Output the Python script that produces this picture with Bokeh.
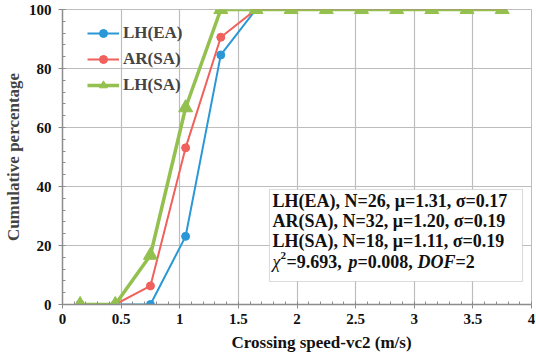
from bokeh.plotting import figure
from bokeh.models import (Range1d, Legend, LegendItem, Label, BoxAnnotation,
                          FixedTicker, Title)
from bokeh.embed import file_html
from bokeh.resources import INLINE

speed = [0.15, 0.45, 0.75, 1.05, 1.35, 1.65, 1.95, 2.25, 2.55, 2.85, 3.15, 3.45, 3.75]
lh_ea = [0, 0, 0, 23.1, 84.6, 100, 100, 100, 100, 100, 100, 100, 100]
ar_sa = [0, 0, 6.3, 53.1, 90.6, 100, 100, 100, 100, 100, 100, 100, 100]
lh_sa = [0, 0, 16.7, 66.7, 100, 100, 100, 100, 100, 100, 100, 100, 100]
x_ticks = [0, 0.5, 1, 1.5, 2, 2.5, 3, 3.5, 4]
y_ticks = [0, 20, 40, 60, 80, 100]
stats_lines = ["LH(EA), N=26, \u03bc=1.31, \u03c3=0.17",
               "AR(SA), N=32, \u03bc=1.20, \u03c3=0.19",
               "LH(SA), N=18, \u03bc=1.11, \u03c3=0.19"]

SERIF = "Liberation Serif"
BLUE = "#2a98d6"
RED = "#f0605c"
GREEN = "#93c04e"
AXIS = "#8c8c8c"
GRID = "#bdbdbd"

p = figure(frame_width=469, frame_height=295, output_backend="svg", toolbar_location=None,
           x_range=Range1d(0, 4), y_range=Range1d(0, 100),
           min_border_left=55, min_border_right=4, min_border_top=9, min_border_bottom=0)
p.outline_line_color = GRID
p.background_fill_color = "white"
p.border_fill_color = "white"

for ax in (p.xaxis[0], p.yaxis[0]):
    ax.axis_line_color = AXIS
    ax.axis_line_width = 1.5
    ax.major_tick_line_color = AXIS
    ax.minor_tick_line_color = AXIS
    ax.major_tick_in = 0
    ax.major_tick_out = 4
    ax.minor_tick_in = 3
    ax.minor_tick_out = 0
    ax.major_label_text_font = SERIF
    ax.major_label_text_font_style = "bold"
    ax.major_label_text_font_size = "15px"
    ax.major_label_text_color = "#111111"

p.xaxis.ticker = FixedTicker(ticks=x_ticks, minor_ticks=[i / 10 for i in range(41)])
p.yaxis.ticker = FixedTicker(ticks=y_ticks, minor_ticks=list(range(0, 101, 4)))
p.xaxis.major_label_standoff = 5
p.yaxis.major_label_standoff = 7

p.yaxis.axis_label = "Cumulative percentage"
p.yaxis.axis_label_text_font = SERIF
p.yaxis.axis_label_text_font_style = "bold"
p.yaxis.axis_label_text_font_size = "17px"
p.yaxis.axis_label_standoff = 3

p.xgrid.ticker = FixedTicker(ticks=x_ticks)
p.ygrid.ticker = FixedTicker(ticks=y_ticks)
p.grid.grid_line_color = GRID
p.grid.grid_line_width = 1.2

xt = Title(text="Crossing speed-vc2  (m/s)", align="left", offset=169, standoff=9,
           text_font=SERIF, text_font_style="bold", text_font_size="17px",
           text_color="#111111")
p.add_layout(xt, "below")

lb = p.line(speed, lh_ea, line_color=BLUE, line_width=2)
mb = p.scatter(speed, lh_ea, marker="circle", size=8, fill_color=BLUE, line_color=BLUE)
lr = p.line(speed, ar_sa, line_color=RED, line_width=2)
mr = p.scatter(speed, ar_sa, marker="circle", size=8, fill_color=RED, line_color=RED)
lg = p.line(speed, lh_sa, line_color=GREEN, line_width=3.5)
mg = p.scatter(speed, lh_sa, marker="triangle", size=14, fill_color=GREEN, line_color=GREEN)

legend = Legend(items=[LegendItem(label="LH(EA)", renderers=[lb, mb]),
                       LegendItem(label="AR(SA)", renderers=[lr, mr]),
                       LegendItem(label="LH(SA)", renderers=[lg, mg])],
                location=(25, 209), border_line_color=None, background_fill_alpha=0,
                label_text_font=SERIF, label_text_font_style="bold",
                label_text_font_size="17px", glyph_width=32, glyph_height=20,
                label_height=20, spacing=6, label_standoff=4, padding=2, margin=0)
p.add_layout(legend, "center")

def dx(px):
    return (px - 63) / 117.25

def dy(py):
    return (306 - py) / 2.95

box = BoxAnnotation(left=dx(270), right=dx(523), bottom=dy(283), top=dy(191),
                    fill_color="white", fill_alpha=1, line_color="#8c8c8c",
                    line_width=1.2)
p.add_layout(box)

rows_y = [202, 222, 242, 263]
for txt, yy in zip(stats_lines, rows_y[:3]):
    p.add_layout(Label(x=dx(273), y=dy(yy), text=txt, text_font=SERIF,
                       text_font_style="bold", text_font_size="18px",
                       text_baseline="middle", text_color="#111111"))

pieces = [("\u03c7", 273, "italic", "18px", 0),
          ("2", 281, "bold", "11px", 6),
          ("=9.693,", 287, "bold", "18px", 0),
          ("p", 349, "bold italic", "18px", 0),
          ("=0.008,", 358, "bold", "18px", 0),
          ("DOF", 418, "bold italic", "18px", 0),
          ("=2", 456, "bold", "18px", 0)]
for txt, px, style, size, up in pieces:
    p.add_layout(Label(x=dx(px), y=dy(263 - up), text=txt, text_font=SERIF,
                       text_font_style=style, text_font_size=size,
                       text_baseline="middle", text_color="#111111"))

open("out.html", "w").write(file_html(p, INLINE))
